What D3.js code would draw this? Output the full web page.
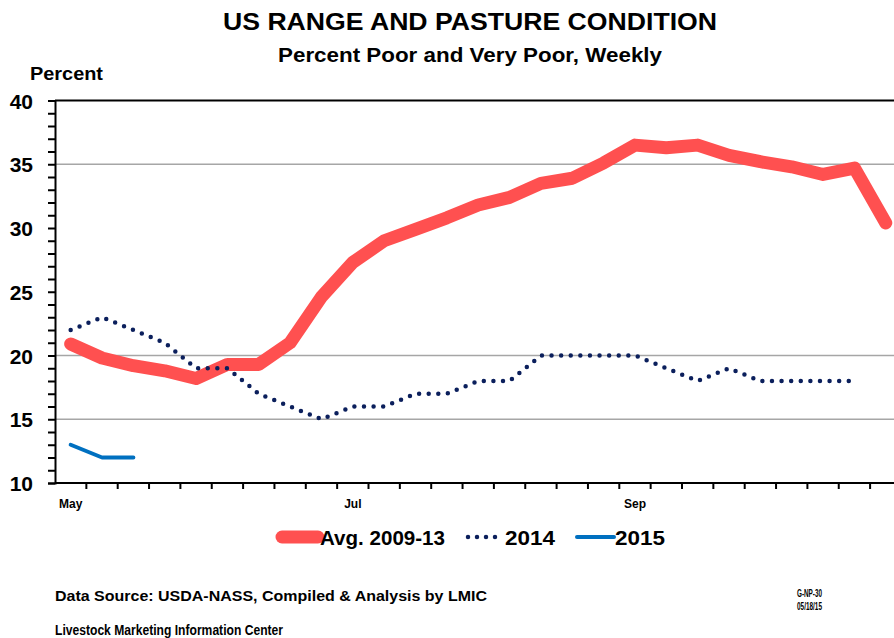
<!DOCTYPE html>
<html>
<head>
<meta charset="utf-8">
<script src="https://cdn.jsdelivr.net/npm/d3@7"></script>
<style>
  html, body { margin: 0; padding: 0; background: #fff; }
  svg { display: block; }
  text { font-family: "Liberation Sans", Arial, sans-serif; fill: #000; }
</style>
</head>
<body>
<svg id="chart" width="894" height="638"></svg>
<script>
// ---- Data ----
const weeks = ["May 3","May 10","May 17","May 24","May 31","Jun 7","Jun 14","Jun 21","Jun 28",
  "Jul 5","Jul 12","Jul 19","Jul 26","Aug 2","Aug 9","Aug 16","Aug 23","Aug 30",
  "Sep 6","Sep 13","Sep 20","Sep 27","Oct 4","Oct 11","Oct 18","Oct 25","Nov 1"];
const avg0913 = [20.9, 19.8, 19.2, 18.8, 18.2, 19.3, 19.3, 21.0, 24.6, 27.3, 29.0, 29.9, 30.8, 31.8,
  32.4, 33.5, 33.9, 35.1, 36.5, 36.3, 36.5, 35.7, 35.2, 34.8, 34.2, 34.7, 30.4];
const y2014 = [22, 23, 22, 21, 19, 19, 17, 16, 15, 16, 16, 17, 17, 18, 18, 20, 20, 20, 20, 19,
  18, 19, 18, 18, 18, 18];
const y2015 = [13, 12, 12];
const tickWeeks = ["May 3", "Jul 5", "Sep 6"];
const tickNames = ["May", "Jul", "Sep"];
const yTicks = [10, 15, 20, 25, 30, 35, 40];
const gridValues = [15, 20, 35];
const seriesNames = ["Avg. 2009-13", "2014", "2015"];

// ---- Layout ----
const svg = d3.select("#chart");
const left = 55, bandW = 31.35;
const x = d3.scaleBand().domain(weeks).range([left, left + weeks.length * bandW]).padding(0);
const y = d3.scaleLinear().domain([10, 40]).range([483, 100.5]);
const cx = w => x(w) + x.bandwidth() / 2;

// Title
svg.append("text").attr("x", 470).attr("y", 30).attr("text-anchor", "middle")
  .attr("font-size", 24).attr("font-weight", "bold")
  .attr("textLength", 494).attr("lengthAdjust", "spacingAndGlyphs")
  .text("US RANGE AND PASTURE CONDITION");
svg.append("text").attr("x", 470).attr("y", 62).attr("text-anchor", "middle")
  .attr("font-size", 20).attr("font-weight", "bold")
  .attr("textLength", 384).attr("lengthAdjust", "spacingAndGlyphs")
  .text("Percent Poor and Very Poor, Weekly");
svg.append("text").attr("x", 30).attr("y", 80)
  .attr("font-size", 18).attr("font-weight", "bold")
  .attr("textLength", 73).attr("lengthAdjust", "spacingAndGlyphs")
  .text("Percent");

// Gridlines
svg.append("g").selectAll("line").data(gridValues).join("line")
  .attr("x1", left).attr("x2", 894)
  .attr("y1", d => y(d)).attr("y2", d => y(d))
  .attr("stroke", "#a6a6a6").attr("stroke-width", 1.5);

// Top frame line
svg.append("line").attr("x1", left).attr("x2", 894).attr("y1", y(40)).attr("y2", y(40))
  .attr("stroke", "#000").attr("stroke-width", 2);

// Y axis
const yAxis = d3.axisLeft(y).tickValues(d3.range(10, 41, 1)).tickSize(7).tickPadding(15)
  .tickFormat(d => yTicks.includes(d) ? d : "");
const gy = svg.append("g").attr("transform", `translate(${left},0)`).call(yAxis);
gy.select(".domain").attr("stroke", "#000").attr("stroke-width", 2);
gy.selectAll(".tick line").attr("stroke", "#000").attr("stroke-width", 2);
gy.selectAll(".tick text").attr("font-size", 21).attr("font-weight", "bold")
  .attr("font-family", "'Liberation Sans', Arial, sans-serif").attr("fill", "#000").attr("dy", "0.36em");

// X axis
const gx = svg.append("g");
gx.append("line").attr("x1", left).attr("x2", 894).attr("y1", y(10)).attr("y2", y(10))
  .attr("stroke", "#000").attr("stroke-width", 2);
gx.selectAll("line.tk").data(weeks.slice(1)).join("line").attr("class", "tk")
  .attr("x1", d => x(d)).attr("x2", d => x(d))
  .attr("y1", y(10)).attr("y2", y(10) + 6)
  .attr("stroke", "#000").attr("stroke-width", 2);
gx.selectAll("text").data(tickWeeks).join("text")
  .attr("x", d => cx(d)).attr("y", 508).attr("text-anchor", "middle")
  .attr("font-size", 12).attr("font-weight", "bold")
  .text((d, i) => tickNames[i]);

// Lines
const line = d3.line().x(d => cx(d.w)).y(d => y(d.v));
const toPts = arr => arr.map((v, i) => ({ w: weeks[i], v }));

svg.append("path").datum(toPts(avg0913)).attr("d", line)
  .attr("fill", "none").attr("stroke", "#ff5050").attr("stroke-width", 13)
  .attr("stroke-linejoin", "round").attr("stroke-linecap", "round");
svg.append("path").datum(toPts(y2014)).attr("d", line)
  .attr("fill", "none").attr("stroke", "#0b1f5c").attr("stroke-width", 4.5)
  .attr("stroke-dasharray", "0,9.6").attr("stroke-linecap", "round");
svg.append("path").datum(toPts(y2015)).attr("d", line)
  .attr("fill", "none").attr("stroke", "#0070c0").attr("stroke-width", 4)
  .attr("stroke-linejoin", "round").attr("stroke-linecap", "round");

// Legend
const lg = svg.append("g");
lg.append("line").attr("x1", 282).attr("x2", 318).attr("y1", 537).attr("y2", 537)
  .attr("stroke", "#ff5050").attr("stroke-width", 13).attr("stroke-linecap", "round");
lg.append("text").attr("x", 320).attr("y", 545).attr("font-size", 21).attr("font-weight", "bold")
  .attr("textLength", 125).attr("lengthAdjust", "spacingAndGlyphs").text(seriesNames[0]);
lg.append("line").attr("x1", 468).attr("x2", 504).attr("y1", 537).attr("y2", 537)
  .attr("stroke", "#0b1f5c").attr("stroke-width", 4.5)
  .attr("stroke-dasharray", "0,9").attr("stroke-linecap", "round");
lg.append("text").attr("x", 505).attr("y", 545).attr("font-size", 21).attr("font-weight", "bold")
  .attr("textLength", 50).attr("lengthAdjust", "spacingAndGlyphs").text(seriesNames[1]);
lg.append("line").attr("x1", 577).attr("x2", 614).attr("y1", 537).attr("y2", 537)
  .attr("stroke", "#0070c0").attr("stroke-width", 4).attr("stroke-linecap", "round");
lg.append("text").attr("x", 615).attr("y", 545).attr("font-size", 21).attr("font-weight", "bold")
  .attr("textLength", 50).attr("lengthAdjust", "spacingAndGlyphs").text(seriesNames[2]);

// Footer
svg.append("text").attr("x", 55).attr("y", 601).attr("font-size", 14).attr("font-weight", "bold")
  .attr("textLength", 432).attr("lengthAdjust", "spacingAndGlyphs")
  .text("Data Source:  USDA-NASS, Compiled & Analysis by LMIC");
svg.append("text").attr("x", 55).attr("y", 635).attr("font-size", 14).attr("font-weight", "bold")
  .attr("textLength", 228).attr("lengthAdjust", "spacingAndGlyphs")
  .text("Livestock Marketing Information Center");
svg.append("text").attr("x", 797).attr("y", 597).attr("font-size", 10).attr("font-weight", "bold")
  .attr("textLength", 25).attr("lengthAdjust", "spacingAndGlyphs").text("G-NP-30");
svg.append("text").attr("x", 797).attr("y", 610).attr("font-size", 10).attr("font-weight", "bold")
  .attr("textLength", 25).attr("lengthAdjust", "spacingAndGlyphs").text("05/18/15");
</script>
</body>
</html>
